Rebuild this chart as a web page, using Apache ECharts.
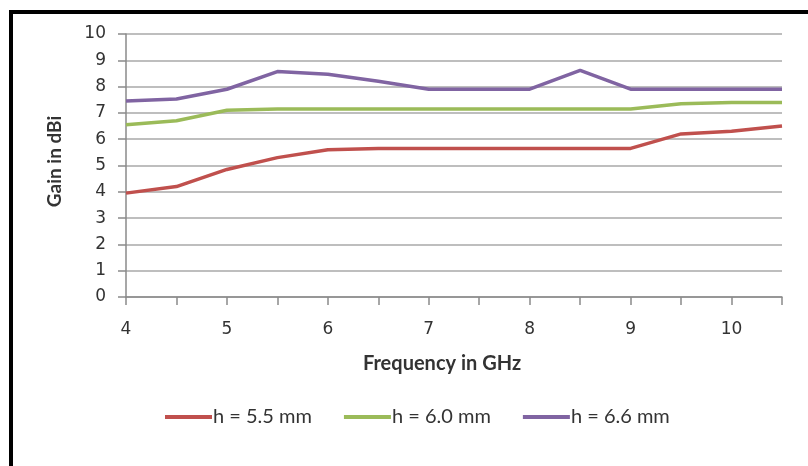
<!DOCTYPE html>
<html>
<head>
<meta charset="utf-8">
<script src="https://cdn.jsdelivr.net/npm/echarts@6/dist/echarts.min.js"></script>
<style>html,body{margin:0;padding:0;background:#fff;}#c{width:808px;height:466px;}</style>
</head>
<body>
<div id="c"></div>
<script>
const frequencies = ['4','4.5','5','5.5','6','6.5','7','7.5','8','8.5','9','9.5','10','10.5'];
const yTicks = [0,1,2,3,4,5,6,7,8,9,10];
const seriesNames = ['h = 5.5 mm','h = 6.0 mm','h = 6.6 mm'];
const gainH55 = [3.95, 4.2, 4.85, 5.3, 5.6, 5.65, 5.65, 5.65, 5.65, 5.65, 5.65, 6.2, 6.3, 6.5];
const gainH60 = [6.55, 6.7, 7.1, 7.15, 7.15, 7.15, 7.15, 7.15, 7.15, 7.15, 7.15, 7.35, 7.4, 7.4];
const gainH66 = [7.45, 7.53, 7.9, 8.57, 8.47, 8.2, 7.9, 7.9, 7.9, 8.62, 7.9, 7.9, 7.9, 7.9];
const colors = ['#C0504D','#9BBB59','#8064A2'];

const chart = echarts.init(document.getElementById('c'), null, {renderer:'canvas'});
const mk = (name, data, color) => ({
  name, type:'line', data, color, symbol:'none', smooth:false,
  lineStyle:{width:3.5, color}, emphasis:{disabled:true}, animation:false
});
chart.setOption({
  backgroundColor:'#fff',
  animation:false,
  graphic:[{type:'rect', shape:{x:11,y:12,width:900,height:600}, style:{fill:'none', stroke:'#000', lineWidth:4}, silent:true}],
  grid:{left:126, right:26, top:34, bottom:169, containLabel:false},
  legend:{
    data:seriesNames, left:160, top:402, icon:'rect', itemWidth:47, itemHeight:4, itemGap:32,
    textStyle:{fontFamily:'Lato', fontSize:20, color:'#333', padding:[0,0,0,-4]}
  },
  xAxis:{
    type:'category', data:frequencies, boundaryGap:false,
    name:'Frequency in GHz', nameLocation:'middle', nameGap:57,
    nameTextStyle:{fontFamily:'Lato', fontWeight:'bold', fontSize:20, color:'#333', padding:[0,24,0,0]},
    axisLine:{show:true, lineStyle:{color:'#8a8a8a', width:1.5}},
    axisTick:{show:true, interval:0, length:8, lineStyle:{color:'#8a8a8a', width:1.5}},
    axisLabel:{interval:1, margin:24, fontFamily:'DejaVu Sans', fontSize:17, color:'#333'},
    splitLine:{show:false}
  },
  yAxis:{
    type:'value', min:yTicks[0], max:yTicks[yTicks.length-1], interval:1,
    name:'Gain in dBi', nameLocation:'middle', nameGap:62, nameRotate:90,
    nameTextStyle:{fontFamily:'Lato', fontWeight:'bold', fontSize:19, color:'#333', padding:[0,0,0,8]},
    axisLine:{show:true, lineStyle:{color:'#8a8a8a', width:1.5}},
    axisTick:{show:true, length:8, inside:false, lineStyle:{color:'#8a8a8a', width:1.5}},
    axisLabel:{margin:20, fontFamily:'DejaVu Sans', fontSize:17, color:'#333'},
    splitLine:{show:true, lineStyle:{color:'#a8a8a8', width:1.5}}
  },
  series:[mk(seriesNames[0], gainH55, colors[0]), mk(seriesNames[1], gainH60, colors[1]), mk(seriesNames[2], gainH66, colors[2])]
});
</script>
</body>
</html>
